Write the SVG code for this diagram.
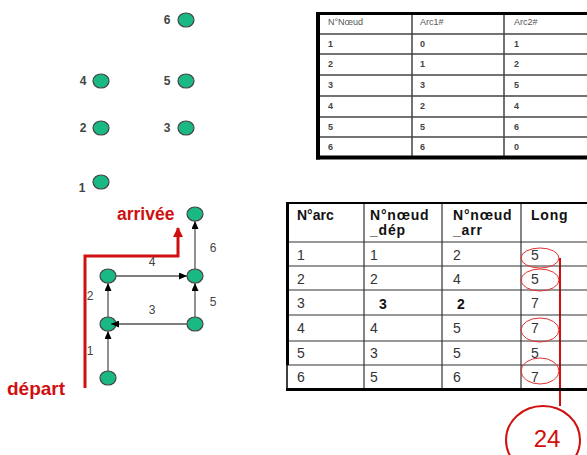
<svg xmlns="http://www.w3.org/2000/svg" width="587" height="455" viewBox="0 0 587 455">
<style>
.nd{fill:#19b884;stroke:#444;stroke-width:1.2}
.lb{font-family:"Liberation Sans",Arial,sans-serif;font-size:12px;font-weight:bold;fill:#444}
.el{font-family:"Liberation Sans",Arial,sans-serif;font-size:12px;fill:#444}
.e{stroke:#555;stroke-width:1.3;fill:none;marker-end:url(#ab)}
.t1{font-family:"Liberation Sans",Arial,sans-serif;font-size:9px;font-weight:bold;fill:#444}
.t1h{font-family:"Liberation Sans",Arial,sans-serif;font-size:9px;fill:#555}
.g1{stroke:#444;stroke-width:1.5}
.th{font-family:"Liberation Sans",Arial,sans-serif;font-size:14px;font-weight:bold;fill:#111}
.td{font-family:"Liberation Sans",Arial,sans-serif;font-size:14px;fill:#333}
.g2{stroke:#333;stroke-width:1.2}
.ov{fill:none;stroke:#e03030;stroke-width:1}
.red{font-family:"Liberation Sans",Arial,sans-serif;font-weight:bold;fill:#d01010}
</style>
<defs>
<marker id="ab" markerUnits="userSpaceOnUse" markerWidth="8" markerHeight="7" refX="8" refY="3.5" orient="auto"><path d="M0,0 L8,3.5 L0,7 z" fill="#000"/></marker>
<marker id="ar" markerUnits="userSpaceOnUse" markerWidth="10" markerHeight="10" refX="9" refY="5" orient="auto"><path d="M0,0 L10,5 L0,10 z" fill="#d01010"/></marker>
</defs>
<rect width="587" height="455" fill="#fff"/>

<!-- top isolated nodes -->
<g id="top-n6"><ellipse class="nd" cx="186" cy="20" rx="8" ry="7"/><text class="lb" x="167" y="24" text-anchor="middle">6</text></g>
<g id="top-n4"><ellipse class="nd" cx="101" cy="81" rx="8" ry="7"/><text class="lb" x="83" y="85" text-anchor="middle">4</text></g>
<g id="top-n5"><ellipse class="nd" cx="186" cy="81" rx="8" ry="7"/><text class="lb" x="167" y="85" text-anchor="middle">5</text></g>
<g id="top-n2"><ellipse class="nd" cx="101" cy="128" rx="8" ry="7"/><text class="lb" x="83" y="132" text-anchor="middle">2</text></g>
<g id="top-n3"><ellipse class="nd" cx="186" cy="128" rx="8" ry="7"/><text class="lb" x="167" y="132" text-anchor="middle">3</text></g>
<g id="top-n1"><ellipse class="nd" cx="101" cy="182" rx="8" ry="7"/><text class="lb" x="82" y="192" text-anchor="middle">1</text></g>

<!-- top table -->
<g id="table-nodes">
<line class="g1" x1="318" y1="34" x2="587" y2="34"/>
<line class="g1" x1="318" y1="54" x2="587" y2="54"/>
<line class="g1" x1="318" y1="75" x2="587" y2="75"/>
<line class="g1" x1="318" y1="96" x2="587" y2="96"/>
<line class="g1" x1="318" y1="117" x2="587" y2="117"/>
<line class="g1" x1="318" y1="137" x2="587" y2="137"/>
<line class="g1" x1="412" y1="13" x2="412" y2="157"/>
<line class="g1" x1="504" y1="13" x2="504" y2="157"/>
<line x1="316" y1="13.5" x2="587" y2="13.5" stroke="#000" stroke-width="3"/>
<line x1="316" y1="157.5" x2="587" y2="157.5" stroke="#000" stroke-width="4"/>
<line x1="318" y1="12" x2="318" y2="159.5" stroke="#000" stroke-width="4"/>
<text class="t1h" x="328" y="25">N°Nœud</text><text class="t1h" x="420" y="25">Arc1#</text><text class="t1h" x="514" y="25">Arc2#</text>
<text class="t1" x="328" y="47">1</text><text class="t1" x="420" y="47">0</text><text class="t1" x="514" y="47">1</text>
<text class="t1" x="328" y="67">2</text><text class="t1" x="420" y="67">1</text><text class="t1" x="514" y="67">2</text>
<text class="t1" x="328" y="88">3</text><text class="t1" x="420" y="88">3</text><text class="t1" x="514" y="88">5</text>
<text class="t1" x="328" y="109">4</text><text class="t1" x="420" y="109">2</text><text class="t1" x="514" y="109">4</text>
<text class="t1" x="328" y="130">5</text><text class="t1" x="420" y="130">5</text><text class="t1" x="514" y="130">6</text>
<text class="t1" x="328" y="150">6</text><text class="t1" x="420" y="150">6</text><text class="t1" x="514" y="150">0</text>
</g>

<!-- graph nodes -->
<g id="n1"><ellipse class="nd" cx="108" cy="378" rx="8" ry="7"/></g>
<g id="n2"><ellipse class="nd" cx="108" cy="324" rx="8" ry="7"/></g>
<g id="n3"><ellipse class="nd" cx="195" cy="324" rx="8" ry="7"/></g>
<g id="n4"><ellipse class="nd" cx="108" cy="276" rx="8" ry="7"/></g>
<g id="n5"><ellipse class="nd" cx="195" cy="276" rx="8" ry="7"/></g>
<g id="n6"><ellipse class="nd" cx="195" cy="214" rx="8" ry="7"/></g>

<g id="connectors">
<line class="e" x1="108" y1="371" x2="108" y2="331"/>
<line class="e" x1="108" y1="317" x2="108" y2="283"/>
<line class="e" x1="187" y1="324" x2="111" y2="324"/>
<line class="e" x1="116" y1="276" x2="187" y2="276"/>
<line class="e" x1="195" y1="317" x2="195" y2="283"/>
<line class="e" x1="195" y1="269" x2="195" y2="221"/>
<polyline points="85,388 85,256 178,256 178,228" fill="none" stroke="#d01010" stroke-width="3" marker-end="url(#ar)"/>
<line x1="560" y1="258" x2="560" y2="406" stroke="#d01010" stroke-width="2"/>
</g>
<text class="el" x="90" y="355" text-anchor="middle">1</text>
<text class="el" x="90" y="300" text-anchor="middle">2</text>
<text class="el" x="152" y="314" text-anchor="middle">3</text>
<text class="el" x="152" y="266" text-anchor="middle">4</text>
<text class="el" x="213" y="306" text-anchor="middle">5</text>
<text class="el" x="213" y="252" text-anchor="middle">6</text>
<text class="red" x="117" y="220" font-size="17.5">arrivée</text>
<text class="red" x="7" y="395" font-size="19">départ</text>

<!-- bottom table -->
<g id="table-arcs">
<line class="g2" x1="287" y1="242" x2="587" y2="242"/>
<line class="g2" x1="287" y1="266" x2="587" y2="266"/>
<line class="g2" x1="287" y1="290" x2="587" y2="290"/>
<line class="g2" x1="287" y1="315" x2="587" y2="315"/>
<line class="g2" x1="287" y1="341" x2="587" y2="341"/>
<line class="g2" x1="287" y1="365" x2="587" y2="365"/>
<line class="g2" x1="364" y1="202" x2="364" y2="389"/>
<line class="g2" x1="442" y1="202" x2="442" y2="389"/>
<line class="g2" x1="521" y1="202" x2="521" y2="389"/>
<line x1="286" y1="203" x2="587" y2="203" stroke="#000" stroke-width="2"/>
<line x1="286" y1="389.5" x2="587" y2="389.5" stroke="#000" stroke-width="3"/>
<line x1="287.5" y1="202" x2="287.5" y2="365" stroke="#000" stroke-width="3"/>
<line x1="287" y1="365" x2="287" y2="389" stroke="#000" stroke-width="1.5"/>
<text class="th" x="297" y="220">N°arc</text>
<text class="th" x="370" y="220" letter-spacing="0.8">N°nœud</text><text class="th" x="370" y="235" letter-spacing="0.8">_dép</text>
<text class="th" x="453" y="220" letter-spacing="0.8">N°nœud</text><text class="th" x="453" y="235" letter-spacing="0.8">_arr</text>
<text class="th" x="531" y="220" letter-spacing="0.8">Long</text>
<text class="td" x="297" y="260">1</text><text class="td" x="370" y="260">1</text><text class="td" x="453" y="260">2</text><text class="td" x="531" y="260">5</text>
<text class="td" x="297" y="284">2</text><text class="td" x="370" y="284">2</text><text class="td" x="453" y="284">4</text><text class="td" x="531" y="284">5</text>
<text class="td" x="297" y="308">3</text><text class="th" x="379" y="309">3</text><text class="th" x="457" y="309">2</text><text class="td" x="531" y="308">7</text>
<text class="td" x="297" y="333">4</text><text class="td" x="370" y="333">4</text><text class="td" x="453" y="333">5</text><text class="td" x="531" y="333">7</text>
<text class="td" x="297" y="358">5</text><text class="td" x="370" y="358">3</text><text class="td" x="453" y="358">5</text><text class="td" x="531" y="358">5</text>
<text class="td" x="297" y="382">6</text><text class="td" x="370" y="382">5</text><text class="td" x="453" y="382">6</text><text class="td" x="531" y="382">7</text>
</g>
<g id="highlights">
<ellipse class="ov" cx="540" cy="258" rx="19" ry="10"/>
<ellipse class="ov" cx="540" cy="280" rx="19" ry="11"/>
<ellipse class="ov" cx="540" cy="330" rx="19" ry="12"/>
<ellipse class="ov" cx="540" cy="371" rx="19" ry="13"/>
</g>
<g id="total"><ellipse cx="543" cy="440" rx="37" ry="34" fill="none" stroke="#d01010" stroke-width="2"/><text x="547" y="447" text-anchor="middle" font-family="Liberation Sans, Arial, sans-serif" font-size="24" fill="#d01010">24</text></g>
</svg>
